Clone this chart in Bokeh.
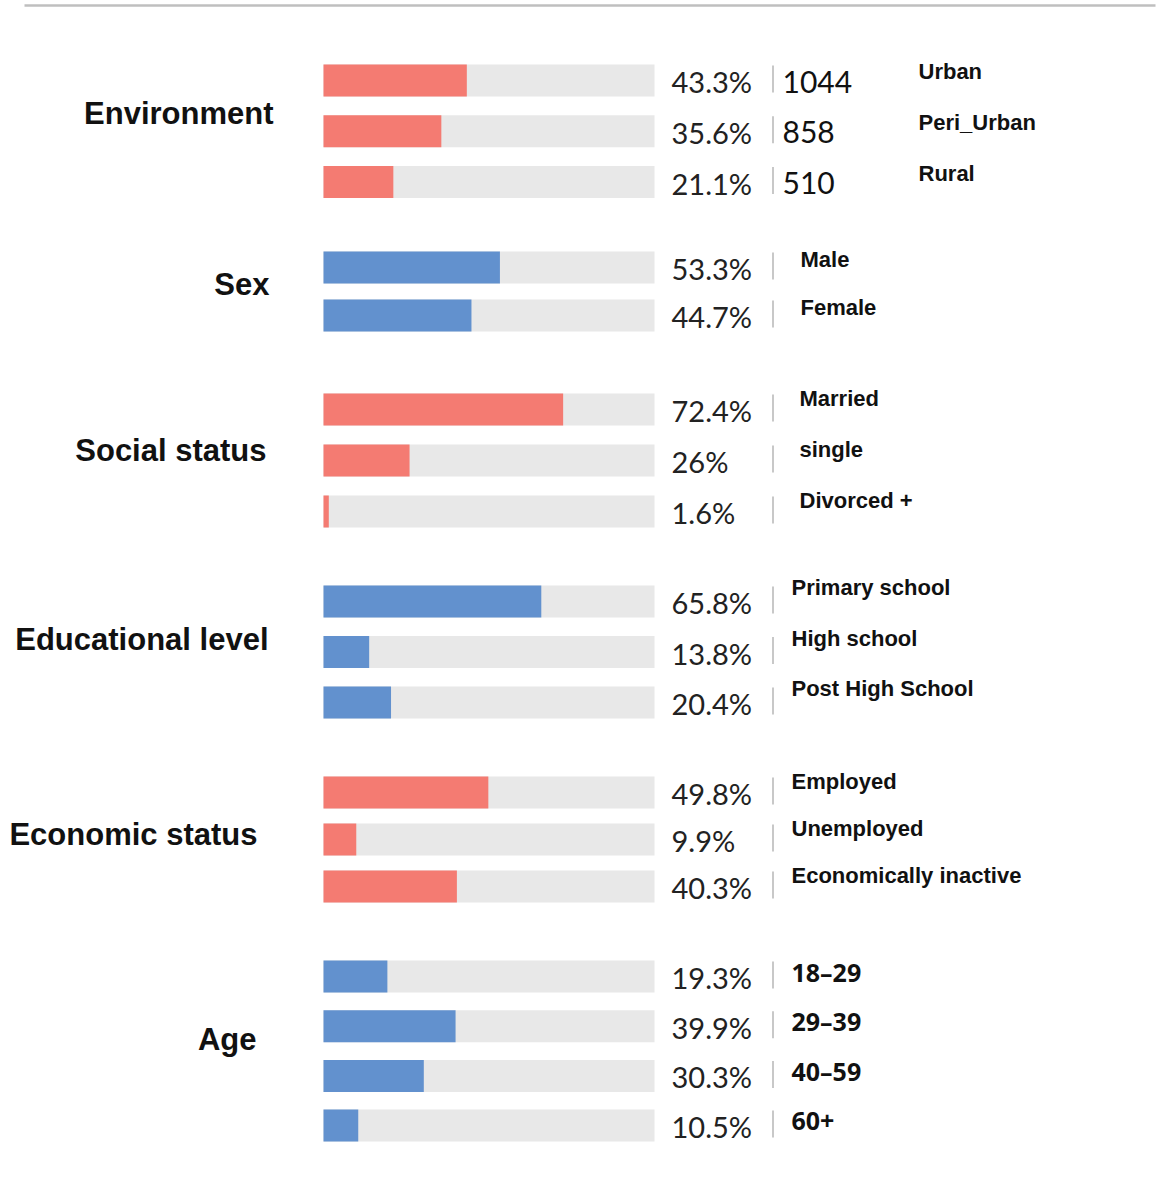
from bokeh.plotting import figure
from bokeh.models import Range1d, ColumnDataSource
from bokeh.core.properties import value
from bokeh.embed import file_html
from bokeh.resources import INLINE

# ---------------- data ----------------
groups = ["Environment", "Sex", "Social status", "Educational level",
          "Economic status", "Age"]

env_labels = ["Urban", "Peri_Urban", "Rural"]
env_pct = [43.3, 35.6, 21.1]
env_counts = ["1044", "858", "510"]

sex_labels = ["Male", "Female"]
sex_pct = [53.3, 44.7]

social_labels = ["Married", "single", "Divorced +"]
social_pct = [72.4, 26, 1.6]

edu_labels = ["Primary school", "High school", "Post High School"]
edu_pct = [65.8, 13.8, 20.4]

econ_labels = ["Employed", "Unemployed", "Economically inactive"]
econ_pct = [49.8, 9.9, 40.3]

age_labels = ["18–29", "29–39", "40–59", "60+"]
age_pct = [19.3, 39.9, 30.3, 10.5]

group_labels = [env_labels, sex_labels, social_labels, edu_labels, econ_labels, age_labels]
group_pcts = [env_pct, sex_pct, social_pct, edu_pct, econ_pct, age_pct]

# ---------------- layout / style ----------------
RED = "#F47B72"
BLUE = "#6291CE"
TRACK = "#E8E8E8"
group_colors = [RED, BLUE, RED, BLUE, RED, BLUE]

W, H = 1175, 1200
BAR_LEFT_PX = 323
PX_PER_PCT = 3.31
BAR_H = 32

group_start = [80, 267, 409, 601, 792, 976]
group_pitch = [50.75, 48, 51, 50.5, 47, 49.7]
cat_offset = [-18, -7, -10, -13, -5, -12]
label_offset = [-9, -8, -11, -14, -11, -5]
cat_right_px = [273, 269, 266, 268, 257, 256]
label_x_px = [918, 800, 799, 791, 791, 791]


def px2x(px):
    return (px - BAR_LEFT_PX) / PX_PER_PCT


p = figure(width=W, height=H, x_range=Range1d(px2x(0), px2x(W)),
           y_range=Range1d(H, 0), x_axis_type=None, y_axis_type=None,
           toolbar_location=None, output_backend="svg", min_border=0,
           outline_line_color=None, background_fill_color="white",
           border_fill_color="white")
p.grid.visible = False

# top rule
p.segment(x0=[px2x(24)], y0=[5], x1=[px2x(1155)], y1=[5],
          line_color="#BFBFBF", line_width=2.5)

rows_y, rows_pct, rows_col, rows_lab, rows_labx, rows_laby = [], [], [], [], [], []
cat_y = []
for gi, (labs, pcts) in enumerate(zip(group_labels, group_pcts)):
    ys = [group_start[gi] + i * group_pitch[gi] for i in range(len(labs))]
    for yy, lab, v in zip(ys, labs, pcts):
        rows_y.append(yy)
        rows_pct.append(v)
        rows_col.append(group_colors[gi])
        rows_lab.append(lab)
        rows_labx.append(px2x(label_x_px[gi]))
        rows_laby.append(yy + label_offset[gi])
    cat_y.append((ys[0] + ys[-1]) / 2 + cat_offset[gi])

src = ColumnDataSource(dict(
    y=rows_y, pct=rows_pct, color=rows_col,
    full=[100] * len(rows_y),
    ptxt=[f"{v:g}%" for v in rows_pct],
    ptx=[px2x(671)] * len(rows_y),
    pty=[v + 1 for v in rows_y],
    sepx=[px2x(772.5)] * len(rows_y),
    sep0=[v - 15 for v in rows_y],
    sep1=[v + 12 for v in rows_y],
))

# track + value bars
p.hbar(y="y", left=0, right="full", height=BAR_H, source=src,
       fill_color=TRACK, line_color=None)
p.hbar(y="y", left=0, right="pct", height=BAR_H, source=src,
       fill_color="color", line_color=None)

# percent labels
p.text(x="ptx", y="pty", text="ptxt", source=src, text_font=value("Lato"),
       text_font_size="29px", text_color="#222222", text_align="left",
       text_baseline="middle")

# separators
p.segment(x0="sepx", y0="sep0", x1="sepx", y1="sep1", source=src,
          line_color="#C8C8C8", line_width=2)

# category labels
n_non_age = len(rows_y) - len(age_labels)
lab_src = ColumnDataSource(dict(x=rows_labx[:n_non_age], y=rows_laby[:n_non_age],
                                t=rows_lab[:n_non_age]))
p.text(x="x", y="y", text="t", source=lab_src,
       text_font=value("Liberation Sans"), text_font_style="bold",
       text_font_size="22px", text_color="#111111", text_align="left",
       text_baseline="middle")
age_src = ColumnDataSource(dict(x=rows_labx[n_non_age:], y=rows_laby[n_non_age:],
                                t=rows_lab[n_non_age:]))
p.text(x="x", y="y", text="t", source=age_src,
       text_font=value("Open Sans"), text_font_style="bold",
       text_font_size="25px", text_color="#111111", text_align="left",
       text_baseline="middle")

# counts for environment
cnt_src = ColumnDataSource(dict(x=[px2x(782)] * len(env_counts),
                                y=[v + 1 for v in rows_y[:len(env_counts)]],
                                t=env_counts))
p.text(x="x", y="y", text="t", source=cnt_src, text_font=value("Lato"),
       text_font_size="30px", text_color="#111111", text_align="left",
       text_baseline="middle")

# group titles
gsrc = ColumnDataSource(dict(x=[px2x(v) for v in cat_right_px], y=cat_y, t=groups))
p.text(x="x", y="y", text="t", source=gsrc,
       text_font=value("Liberation Sans"), text_font_style="bold",
       text_font_size="31px", text_color="#111111", text_align="right",
       text_baseline="middle")

open("out.html", "w").write(file_html(p, INLINE))
